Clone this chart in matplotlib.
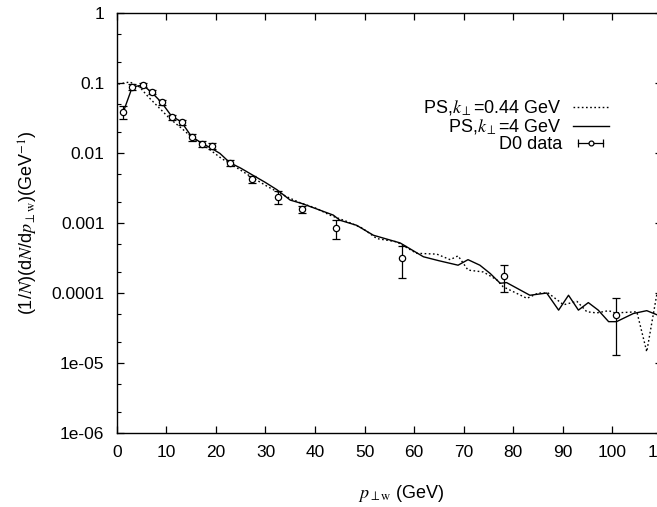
import matplotlib
matplotlib.use("Agg")
import matplotlib.pyplot as plt
from matplotlib.lines import Line2D
from matplotlib.legend_handler import HandlerLine2D

plt.rcParams['font.family'] = ['Liberation Sans', 'DejaVu Sans']
plt.rcParams['mathtext.fontset'] = 'stix'

# PS, k_perp = 0.44 GeV (dotted)
pt_soft = [0.3, 2.6, 4.6, 6.3, 8.3, 10.7, 13.1, 15.8, 18.4, 21.1, 24.0, 27.3, 30.5,
           34.3, 37.0, 40.3, 43.0, 46.5, 49.5, 52.5, 56.5, 60.5, 64.6, 67.3, 68.9,
           70.9, 74.0, 76.7, 78.0, 82.8, 85.1, 87.1, 90.2, 92.9, 94.9, 96.9, 99.3,
           100.6, 103.0, 105.0, 107.0, 109.0, 110.0]
dn_soft = [0.097, 0.104, 0.088, 0.064, 0.046, 0.031, 0.0225, 0.0153, 0.0117, 0.0084,
           0.0063, 0.0045, 0.0033, 0.00238, 0.00195, 0.00162, 0.0013, 0.00105, 0.00085,
           0.0006, 0.00054, 0.00037, 0.00036, 0.0003, 0.00034, 0.000213, 0.0002,
           0.000155, 0.000123, 8.4e-5, 1.0e-4, 1.0e-4, 6.8e-5, 7.6e-5, 5.4e-5, 5.2e-5,
           5.6e-5, 5.2e-5, 5.3e-5, 5.4e-5, 1.45e-5, 9.3e-5, 6.0e-5]

# PS, k_perp = 4 GeV (solid)
pt_hard = [1.3, 3.1, 5.2, 7.0, 9.0, 11.0, 13.0, 15.0, 17.0, 19.0, 20.8, 22.8, 25.0,
           27.3, 30.0, 32.3, 35.0, 37.3, 41.0, 43.7, 45.0, 48.4, 51.8, 57.2, 61.9,
           65.0, 68.9, 70.9, 73.3, 75.4, 77.4, 78.7, 83.4, 86.8, 89.2, 91.2, 93.2,
           95.2, 97.2, 99.3, 100.9, 104.3, 107.0, 110.0]
dn_hard = [0.039, 0.088, 0.094, 0.074, 0.053, 0.034, 0.028, 0.0175, 0.014, 0.0118,
           0.0099, 0.0073, 0.0061, 0.0049, 0.0038, 0.0030, 0.00213, 0.00191, 0.00153,
           0.0013, 0.0011, 0.00093, 0.00067, 0.00052, 0.00033, 0.00029, 0.00025,
           0.00030, 0.00025, 0.00019, 0.000138, 0.000141, 9.3e-5, 1.0e-4, 5.7e-5,
           9.3e-5, 5.7e-5, 7.3e-5, 5.7e-5, 3.9e-5, 3.9e-5, 5.1e-5, 5.6e-5, 4.6e-5]

# D0 data
pt_d0 = [1.3, 3.1, 5.2, 7.1, 9.2, 11.2, 13.1, 15.2, 17.2, 19.1, 22.8, 27.3, 32.5,
         37.3, 44.2, 57.6, 78.1, 100.8]
dn_d0 = [0.039, 0.0885, 0.094, 0.0744, 0.0535, 0.0324, 0.0277, 0.0168, 0.0137, 0.0126,
         0.00727, 0.0042, 0.00238, 0.00158, 0.00084, 0.000313, 0.000177, 4.85e-5]
err_d0 = [0.008, 0.008, 0.006, 0.005, 0.004, 0.003, 0.0025, 0.0017, 0.0014, 0.0013,
          0.0007, 0.0005, 0.00053, 0.0002, 0.00025, 0.00015, 7.3e-5, 3.55e-5]

yticks = [1, 0.1, 0.01, 0.001, 0.0001, 1e-5, 1e-6]
ytick_labels = ['1', '0.1', '0.01', '0.001', '0.0001', '1e-05', '1e-06']
xticks = [0, 10, 20, 30, 40, 50, 60, 70, 80, 90, 100, 110]

fig = plt.figure(figsize=(6.57, 5.07), dpi=100)
# right edge of the frame falls just outside the picture, like the reference
ax = fig.add_axes([0.178, 0.146, 0.829, 0.828])

line_soft, = ax.plot(pt_soft, dn_soft, color='black', lw=1.0, linestyle=(0, (1.2, 1.8)))
line_hard, = ax.plot(pt_hard, dn_hard, color='black', lw=1.0)
ax.errorbar(pt_d0, dn_d0, yerr=err_d0, fmt='o', color='black', mfc='white',
            ms=4.5, mew=0.9, elinewidth=0.9, capsize=3, capthick=0.9)

ax.set_yscale('log')
ax.set_xlim(0, 110)
ax.set_ylim(1e-6, 1)
ax.set_xticks(xticks)
ax.set_xticklabels([str(t) for t in xticks])
ax.set_yticks(yticks)
ax.set_yticklabels(ytick_labels)
ax.yaxis.set_minor_locator(matplotlib.ticker.LogLocator(base=10, subs=[2, 5]))
ax.yaxis.set_minor_formatter(matplotlib.ticker.NullFormatter())
ax.tick_params(which='both', direction='in', top=True, right=True, labelsize=12.5, pad=9)
ax.tick_params(which='major', length=5, width=0.9)
ax.tick_params(which='minor', length=3, width=0.8)
for s in ax.spines.values():
    s.set_linewidth(1.0)

ax.set_xlabel(r'$p_{\perp\mathrm{w}}$ (GeV)', fontsize=13)
ax.xaxis.set_label_coords(0.522, -0.118)
ax.set_ylabel(r'(1/$N$)(d$N$/d$p_{\perp\mathrm{w}}$)(GeV$^{-1}$)', fontsize=13, labelpad=8)

# legend with gnuplot-like sample for the data
caps = Line2D([], [], color='black', lw=0.9, marker='|', ms=6, mew=0.9)
dot = Line2D([], [], color='black', lw=0, marker='o', ms=3.5, mfc='white', mew=0.9)
ax.legend([line_soft, line_hard, (caps, dot)],
          [r'PS,$k_{\perp}$=0.44 GeV', r'PS,$k_{\perp}$=4 GeV', 'D0 data'],
          handler_map={caps: HandlerLine2D(numpoints=2), dot: HandlerLine2D(numpoints=1)},
          loc='upper right', bbox_to_anchor=(0.903, 0.797), frameon=False, markerfirst=False,
          fontsize=13, handlelength=2.0, handletextpad=0.6, labelspacing=0.0,
          borderpad=0, borderaxespad=0)

fig.savefig('out.png', dpi=100)
